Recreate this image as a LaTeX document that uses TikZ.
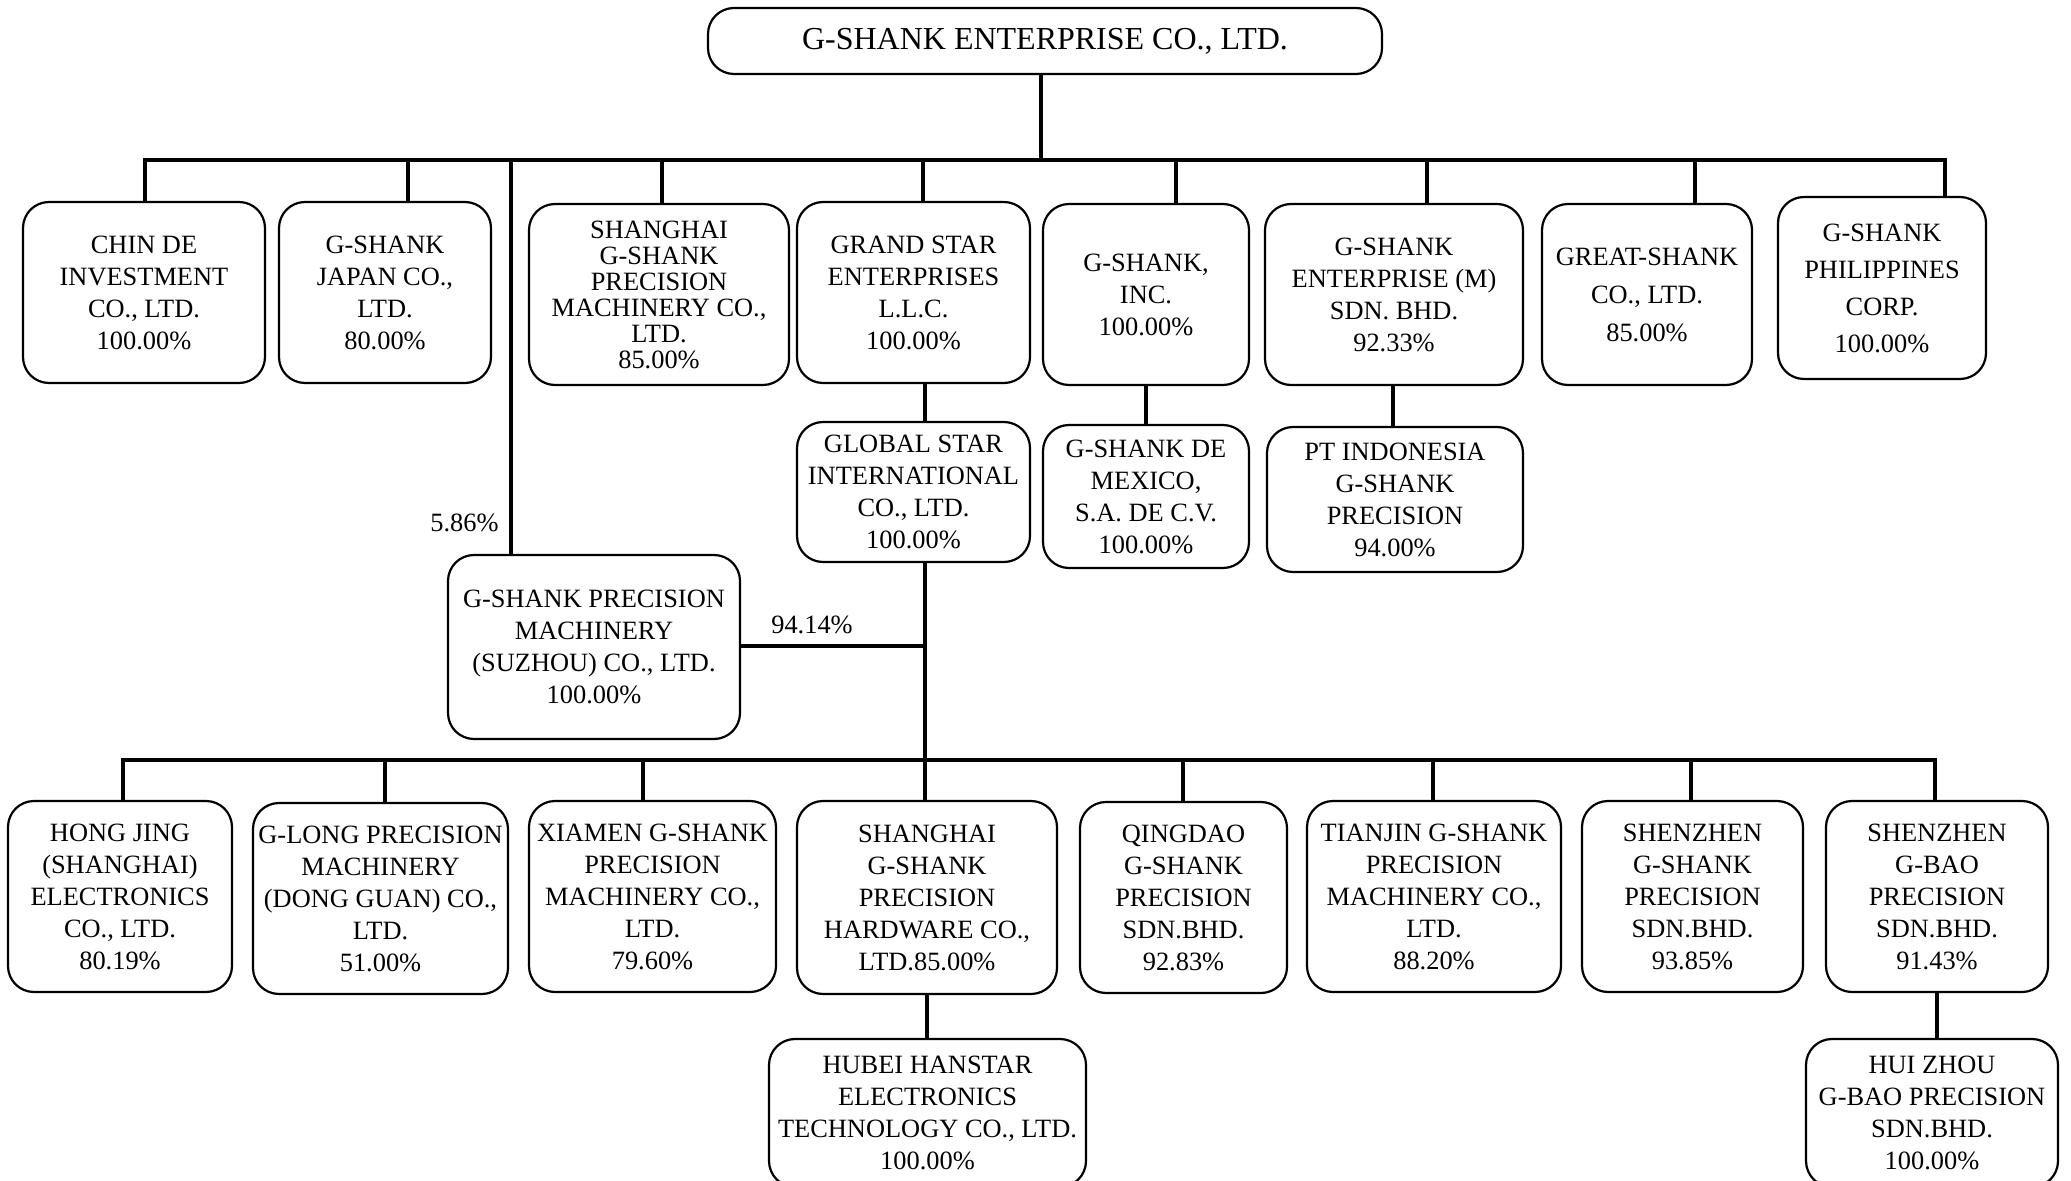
\documentclass[tikz,border=0pt]{standalone}
\usepackage{fontspec}
\setmainfont{Liberation Serif}
\newcommand\obox[7][]{\node[box,#1, minimum width={(#3-#2)*0.5pt}, minimum height={(#5-#4)*0.5pt}] (#6) at ({(#2+#3)/2},{(#4+#5)/2}) {#7};}
\begin{document}
\begin{tikzpicture}[x=0.5pt,y=-0.5pt,
  box/.style={draw, line width=1.1pt, rounded corners=13pt, align=center, inner sep=0pt,
    font=\fontsize{13.2}{16}\selectfont},
  link/.style={line width=2.2pt},
  pct/.style={font=\fontsize{13.2}{16}\selectfont, inner sep=0pt}]
\useasboundingbox (0,0) rectangle (2071,1181);

% top
\obox[font=\fontsize{16}{18}\selectfont]{708}{1382}{8}{74}{top}{G-SHANK ENTERPRISE CO., LTD.}

% row 1
\obox{23}{265}{202}{383}{chinde}{CHIN DE\\INVESTMENT\\CO., LTD.\\100.00\%}
\obox{279}{491}{202}{383}{japan}{G-SHANK\\JAPAN CO.,\\LTD.\\80.00\%}
\obox[font=\fontsize{13.2}{13}\selectfont]{529}{789}{204}{385}{shmach}{SHANGHAI\\G-SHANK\\PRECISION\\MACHINERY CO.,\\LTD.\\85.00\%}
\obox{797}{1030}{202}{383}{grandstar}{GRAND STAR\\ENTERPRISES\\L.L.C.\\100.00\%}
\obox{1043}{1249}{204}{385}{inc}{G-SHANK,\\INC.\\100.00\%}
\obox{1265}{1523}{204}{385}{entm}{G-SHANK\\ENTERPRISE (M)\\SDN. BHD.\\92.33\%}
\obox[font=\fontsize{13.2}{19}\selectfont]{1542}{1752}{204}{385}{great}{GREAT-SHANK\\CO., LTD.\\85.00\%}
\obox[font=\fontsize{13.2}{18.5}\selectfont]{1778}{1986}{197}{379}{phil}{G-SHANK\\PHILIPPINES\\CORP.\\100.00\%}

% row 2
\obox{797}{1030}{422}{562}{globalstar}{GLOBAL STAR\\INTERNATIONAL\\CO., LTD.\\100.00\%}
\obox{1043}{1249}{425}{568}{mexico}{G-SHANK DE\\MEXICO,\\S.A. DE C.V.\\100.00\%}
\obox{1267}{1523}{427}{572}{indonesia}{PT INDONESIA\\G-SHANK\\PRECISION\\94.00\%}
\obox{448}{740}{555}{739}{suzhou}{G-SHANK PRECISION\\MACHINERY\\(SUZHOU) CO., LTD.\\100.00\%}

% row 3
\obox{8}{232}{801}{992}{hongjing}{HONG JING\\(SHANGHAI)\\ELECTRONICS\\CO., LTD.\\80.19\%}
\obox{253}{508}{803}{994}{glong}{G-LONG PRECISION\\MACHINERY\\(DONG GUAN) CO.,\\LTD.\\51.00\%}
\obox{529}{776}{801}{992}{xiamen}{XIAMEN G-SHANK\\PRECISION\\MACHINERY CO.,\\LTD.\\79.60\%}
\obox{797}{1057}{801}{994}{hardware}{SHANGHAI\\G-SHANK\\PRECISION\\HARDWARE CO.,\\LTD.85.00\%}
\obox{1080}{1287}{802}{993}{qingdao}{QINGDAO\\G-SHANK\\PRECISION\\SDN.BHD.\\92.83\%}
\obox{1307}{1561}{801}{992}{tianjin}{TIANJIN G-SHANK\\PRECISION\\MACHINERY CO.,\\LTD.\\88.20\%}
\obox{1582}{1803}{801}{992}{szgshank}{SHENZHEN\\G-SHANK\\PRECISION\\SDN.BHD.\\93.85\%}
\obox{1826}{2048}{801}{992}{szgbao}{SHENZHEN\\G-BAO\\PRECISION\\SDN.BHD.\\91.43\%}

% row 4
\obox{769}{1086}{1039}{1187}{hubei}{HUBEI HANSTAR\\ELECTRONICS\\TECHNOLOGY CO., LTD.\\100.00\%}
\obox{1806}{2058}{1039}{1187}{huizhou}{HUI ZHOU\\G-BAO PRECISION\\SDN.BHD.\\100.00\%}

% top bar
\coordinate (t0) at (1041,160);
\coordinate (bL) at (145,160);
\coordinate (bR) at (1945,160);
\draw[link] (t0 |- top.south) -- (t0);
\draw[link, line cap=rect] (bL) -- (bR);
\foreach \x/\n in {145/chinde, 408/japan, 662/shmach, 923/grandstar, 1176/inc, 1427/entm, 1695/great, 1945/phil}{
  \coordinate (d\n) at (\x,160);
  \draw[link] (d\n) -- (d\n |- \n.north);
}
\coordinate (dsz) at (511,160);
\draw[link] (dsz) -- (dsz |- suzhou.north);
\node[pct, anchor=east] (p586) at (499,523) {5.86\%};

% second level
\coordinate (c1) at (925,0);
\draw[link] (c1 |- grandstar.south) -- (c1 |- globalstar.north);
\coordinate (c2) at (1146,0);
\draw[link] (c2 |- inc.south) -- (c2 |- mexico.north);
\coordinate (c3) at (1393,0);
\draw[link] (c3 |- entm.south) -- (c3 |- indonesia.north);

% main trunk
\coordinate (m0) at (925,760);
\coordinate (mj) at (925,646);
\draw[link] (m0 |- globalstar.south) -- (m0);
\draw[link] (suzhou.east |- mj) -- (mj);
\node[pct] (p9414) at (812,625) {94.14\%};

% bottom bar
\coordinate (eL) at (123,760);
\coordinate (eR) at (1935,760);
\draw[link, line cap=rect] (eL) -- (eR);
\foreach \x/\n in {123/hongjing, 385/glong, 643/xiamen, 925/hardware, 1183/qingdao, 1433/tianjin, 1691/szgshank, 1935/szgbao}{
  \coordinate (e\n) at (\x,760);
  \draw[link] (e\n) -- (e\n |- \n.north);
}
\coordinate (c4) at (927,0);
\draw[link] (c4 |- hardware.south) -- (c4 |- hubei.north);
\coordinate (c5) at (1937,0);
\draw[link] (c5 |- szgbao.south) -- (c5 |- huizhou.north);
\end{tikzpicture}
\end{document}
